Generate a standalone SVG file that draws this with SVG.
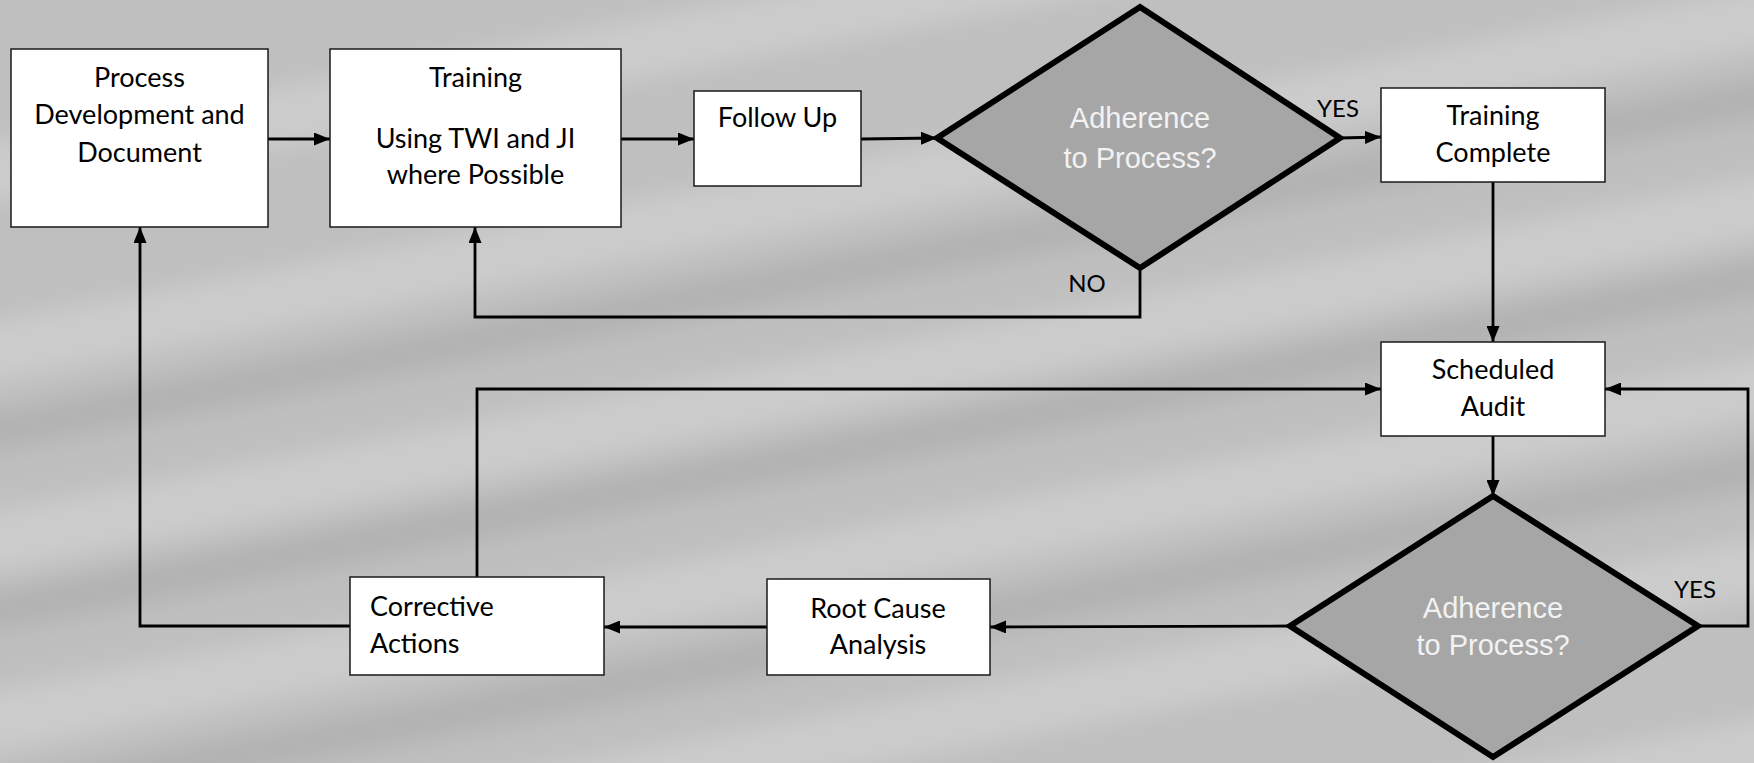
<svg xmlns="http://www.w3.org/2000/svg" width="1754" height="763" viewBox="0 0 1754 763">
<defs>
<style>
.box{fill:#ffffff;stroke:#1a1a1a;stroke-width:1.5}
.dia{fill:#a6a6a6;stroke:#000000;stroke-width:6;stroke-linejoin:miter}
.t{font-family:Lato,"Open Sans","Liberation Sans",sans-serif;font-size:27px;fill:#000000;text-anchor:middle}
.tl{text-anchor:start}
.dt{font-family:"Liberation Sans",Arial,sans-serif;font-size:29px;fill:#f2f2f2;text-anchor:middle}
.lab{font-family:Lato,"Liberation Sans",sans-serif;font-size:24px;fill:#000000;text-anchor:middle}
.c{fill:none;stroke:#000000;stroke-width:2.8}
.band{fill:#dcdcdc;opacity:0.45}
.dark{fill:#9a9a9a;opacity:0.35}
</style>
<marker id="ah" viewBox="0 0 16 13" refX="16" refY="6.5" markerWidth="16" markerHeight="13" markerUnits="userSpaceOnUse" orient="auto">
<path d="M0,0 L16,6.5 L0,13 Z" fill="#000000"/>
</marker>
<filter id="blur" x="-10%" y="-50%" width="120%" height="200%"><feGaussianBlur stdDeviation="12"/></filter>
</defs>
<g id="background">
<rect x="0" y="0" width="1754" height="763" fill="#bfbfbf"/>
<g filter="url(#blur)">
<polygon class="band" points="-50,150 1800,-200 1800,-140 -50,210"/>
<polygon class="band" points="-50,330 1800,-20 1800,40 -50,390"/>
<polygon class="dark" points="-50,420 1800,70 1800,110 -50,460"/>
<polygon class="band" points="-50,520 1800,170 1800,230 -50,580"/>
<polygon class="dark" points="-50,600 1800,250 1800,290 -50,640"/>
<polygon class="band" points="-50,700 1800,350 1800,410 -50,760"/>
<polygon class="dark" points="-50,790 1800,440 1800,480 -50,830"/>
<polygon class="band" points="-50,880 1800,530 1800,590 -50,940"/>
<polygon class="band" points="-50,1060 1800,710 1800,770 -50,1120"/>
</g>
</g>
<g id="connectors">
<line class="c" x1="268" y1="139" x2="330" y2="139" marker-end="url(#ah)"/>
<line class="c" x1="621" y1="139" x2="694" y2="139" marker-end="url(#ah)"/>
<line class="c" x1="861" y1="139" x2="937" y2="138" marker-end="url(#ah)"/>
<line class="c" x1="1340" y1="138" x2="1381" y2="137" marker-end="url(#ah)"/>
<polyline class="c" points="1140,268 1140,317 475,317 475,227" marker-end="url(#ah)"/>
<line class="c" x1="1493" y1="182" x2="1493" y2="342" marker-end="url(#ah)"/>
<line class="c" x1="1493" y1="436" x2="1493" y2="496" marker-end="url(#ah)"/>
<polyline class="c" points="1698,626 1748,626 1748,389 1605,389" marker-end="url(#ah)"/>
<line class="c" x1="1290" y1="626" x2="990" y2="627" marker-end="url(#ah)"/>
<line class="c" x1="767" y1="627" x2="604" y2="627" marker-end="url(#ah)"/>
<polyline class="c" points="350,626 140,626 140,227" marker-end="url(#ah)"/>
<polyline class="c" points="477,577 477,389 1381,389" marker-end="url(#ah)"/>
<text class="lab" x="1338" y="117">YES</text>
<text class="lab" x="1087" y="292">NO</text>
<text class="lab" x="1695" y="598">YES</text>
</g>
<g id="process-development">
<rect class="box" x="11" y="49" width="257" height="178"/>
<text class="t" x="139.5" y="87">Process</text>
<text class="t" x="139.5" y="124">Development and</text>
<text class="t" x="139.5" y="162">Document</text>
</g>
<g id="training">
<rect class="box" x="330" y="49" width="291" height="178"/>
<text class="t" x="475.5" y="87">Training</text>
<text class="t" x="475.5" y="148">Using TWI and JI</text>
<text class="t" x="475.5" y="184">where Possible</text>
</g>
<g id="follow-up">
<rect class="box" x="694" y="91" width="167" height="95"/>
<text class="t" x="777.5" y="127">Follow Up</text>
</g>
<g id="adherence-1">
<polygon class="dia" points="1140,7 1340,138 1140,268 937,138"/>
<text class="dt" x="1140" y="128">Adherence</text>
<text class="dt" x="1140" y="168">to Process?</text>
</g>
<g id="training-complete">
<rect class="box" x="1381" y="88" width="224" height="94"/>
<text class="t" x="1493" y="125">Training</text>
<text class="t" x="1493" y="162">Complete</text>
</g>
<g id="scheduled-audit">
<rect class="box" x="1381" y="342" width="224" height="94"/>
<text class="t" x="1493" y="379">Scheduled</text>
<text class="t" x="1493" y="416">Audit</text>
</g>
<g id="adherence-2">
<polygon class="dia" points="1493,496 1698,626 1493,757 1290,626"/>
<text class="dt" x="1493" y="618">Adherence</text>
<text class="dt" x="1493" y="655">to Process?</text>
</g>
<g id="root-cause">
<rect class="box" x="767" y="579" width="223" height="96"/>
<text class="t" x="878" y="618">Root Cause</text>
<text class="t" x="878" y="654">Analysis</text>
</g>
<g id="corrective-actions">
<rect class="box" x="350" y="577" width="254" height="98"/>
<text class="t tl" x="370" y="616">Corrective</text>
<text class="t tl" x="370" y="653">Actions</text>
</g>
</svg>
